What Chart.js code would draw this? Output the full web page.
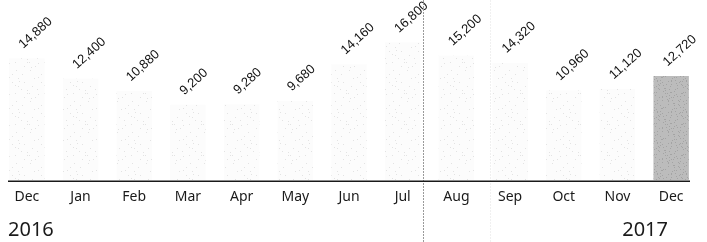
<!DOCTYPE html>
<html lang="en">
<head>
    <meta charset="UTF-8">
    <title>Monthly totals, Dec 2016 - Dec 2017</title>
    <script src="https://cdn.jsdelivr.net/npm/chart.js"></script>
    <style>
        html, body { margin: 0; padding: 0; background: #fff; }
        #wrap { width: 707px; height: 242px; position: relative; }
    </style>
</head>
<body>
<div id="wrap"><canvas id="chart"></canvas></div>
<script>
    const months = ['Dec', 'Jan', 'Feb', 'Mar', 'Apr', 'May', 'Jun', 'Jul', 'Aug', 'Sep', 'Oct', 'Nov', 'Dec'];
    const totals = [14880, 12400, 10880, 9200, 9280, 9680, 14160, 16800, 15200, 14320, 10960, 11120, 12720];
    const years = ['2016', '2017'];

    // speckled fill like the printed original
    function speckle(base, dot, n) {
        const c = document.createElement('canvas');
        c.width = 29; c.height = 31;
        const g = c.getContext('2d');
        g.fillStyle = base;
        g.fillRect(0, 0, c.width, c.height);
        g.fillStyle = dot;
        for (let i = 0; i < n; i++) {
            const x = (i * 17 + (i * i) % 7) % c.width;
            const y = (i * 11 + (i * 5) % 13) % c.height;
            g.fillRect(x, y, 1, 1);
        }
        return g.createPattern(c, 'repeat');
    }
    const lightFill = speckle('#fcfcfc', '#e3e3e3', 24);
    const darkFill = speckle('#bcbcbc', '#a4a4a4', 90);

    const valueLabels = {
        id: 'valueLabels',
        afterDatasetsDraw(chart) {
            const ctx = chart.ctx;
            const meta = chart.getDatasetMeta(0);
            ctx.save();
            ctx.fillStyle = '#111';
            ctx.font = '13px "Liberation Sans Narrow", "Liberation Sans", sans-serif';
            ctx.textAlign = 'left';
            ctx.textBaseline = 'middle';
            meta.data.forEach((bar, i) => {
                ctx.save();
                ctx.translate(bar.x - 6, bar.y - 12);
                ctx.rotate(-42 * Math.PI / 180);
                ctx.fillText(totals[i].toLocaleString('en-US'), 0, 0);
                ctx.restore();
            });
            ctx.restore();
        }
    };

    const extras = {
        id: 'extras',
        afterDraw(chart) {
            const ctx = chart.ctx;
            const x = chart.scales.x;
            const area = chart.chartArea;
            ctx.save();
            // year divider
            ctx.strokeStyle = '#9a9a9a';
            ctx.lineWidth = 1;
            ctx.setLineDash([2, 1]);
            let px = Math.round(x.getPixelForValue(7.38)) + 0.5;
            ctx.beginPath(); ctx.moveTo(px, 0); ctx.lineTo(px, chart.height); ctx.stroke();
            ctx.strokeStyle = 'rgba(0,0,0,0.06)';
            px = Math.round(x.getPixelForValue(8.62)) + 0.5;
            ctx.beginPath(); ctx.moveTo(px, 0); ctx.lineTo(px, chart.height); ctx.stroke();
            ctx.setLineDash([]);
            // baseline
            ctx.strokeStyle = '#1a1a1a';
            ctx.lineWidth = 1.6;
            ctx.beginPath();
            ctx.moveTo(area.left + 8, area.bottom + 1);
            ctx.lineTo(area.right - 8, area.bottom + 1);
            ctx.stroke();
            // years
            ctx.fillStyle = '#1a1a1a';
            ctx.font = '20px "Noto Sans", sans-serif';
            ctx.textBaseline = 'alphabetic';
            ctx.textAlign = 'left';
            ctx.fillText(years[0], 8, 236);
            ctx.textAlign = 'right';
            ctx.fillText(years[1], 668, 236);
            ctx.restore();
        }
    };

    new Chart(document.getElementById('chart'), {
        type: 'bar',
        data: {
            labels: months,
            datasets: [{
                data: totals,
                backgroundColor: totals.map((v, i) => i === totals.length - 1 ? darkFill : lightFill),
                borderWidth: 0,
                categoryPercentage: 1,
                barPercentage: 0.66
            }]
        },
        options: {
            responsive: true,
            maintainAspectRatio: false,
            animation: false,
            layout: { padding: { left: 0, right: 9, top: 0, bottom: 37 } },
            plugins: { legend: { display: false }, tooltip: { enabled: false } },
            scales: {
                x: {
                    grid: { display: false },
                    border: { display: false },
                    ticks: {
                        color: '#1a1a1a',
                        padding: 0,
                        font: { family: '"Noto Sans", sans-serif', size: 14 },
                        maxRotation: 0,
                        autoSkip: false
                    }
                },
                y: {
                    display: false,
                    min: 0,
                    max: 22000
                }
            }
        },
        plugins: [valueLabels, extras]
    });
</script>
</body>
</html>
